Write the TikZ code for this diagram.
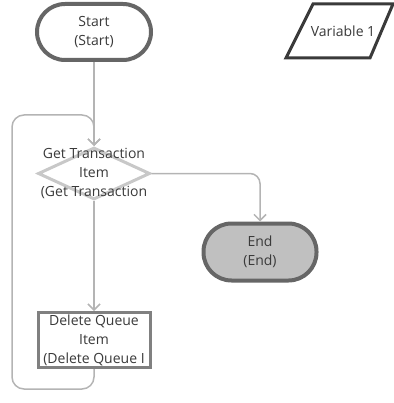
\documentclass[tikz,border=0pt]{standalone}
\usepackage{fontspec}
\setmainfont{Open Sans}
\usetikzlibrary{arrows.meta,positioning,shapes.geometric,calc}
\definecolor{txtgray}{HTML}{3A3A3A}
\definecolor{rimdark}{HTML}{666666}
\definecolor{rimlight}{HTML}{C8C8C8}
\definecolor{rimmid}{HTML}{808080}
\definecolor{linegray}{HTML}{B4B4B4}
\definecolor{endfill}{HTML}{C0C0C0}
\tikzset{
  base/.style={font=\fontsize{14}{19}\selectfont, text=txtgray, align=center, inner sep=0pt},
  terminal/.style={base, rectangle, rounded corners=28pt, draw=rimdark, line width=4pt,
    fill=white},
  endterm/.style={terminal, fill=endfill},
  decide/.style={base, diamond, draw=rimlight, line width=3pt, fill=white},
  actbox/.style={base, rectangle, draw=rimmid, line width=3pt, fill=white},
  ioedge/.style={draw=txtgray, line width=3pt, line join=miter},
  conn/.style={-{Straight Barb[length=6pt,width=12pt]}, line width=1.5pt, draw=linegray},
}
\begin{document}
\begin{tikzpicture}[x=1pt, y=-1pt]
  \useasboundingbox (0,0) rectangle (393,403);
  \node[terminal, minimum width=114pt, minimum height=56pt] (start) at (94,32) {Start\\(Start)};
  % parallelogram for the variable
  \node[base] (var) at (343,31) {Variable 1};
  \draw[ioedge] ($(var)+(-30,-27)$) -- ($(var)+(50,-27)$) -- ($(var)+(27,27)$)
    -- ($(var)+(-57,27)$) -- cycle;
  \node[decide, minimum width=112pt, minimum height=52pt, below=84pt of start,
    label={[base]center:Get Transaction\\Item\\(Get Transaction}] (getitem) {};
  \node[actbox, minimum width=112pt, minimum height=55pt, below=110pt of getitem] (delitem)
    {Delete Queue\\Item\\(Delete Queue I};
  \node[endterm, minimum width=113pt, minimum height=57pt] (endnode) at (260,252) {End\\(End)};
  \coordinate (loopbot) at (12,389);
  \coordinate (looptop) at (12,115);
  \draw[conn] (start) -- (getitem);
  \draw[conn, rounded corners=10pt] (getitem.east) -| (endnode.north);
  \draw[conn] (getitem) -- (delitem);
  \draw[conn, rounded corners=12pt] (delitem.south) |- (loopbot) -- (looptop) -| (getitem.north);
\end{tikzpicture}
\end{document}
